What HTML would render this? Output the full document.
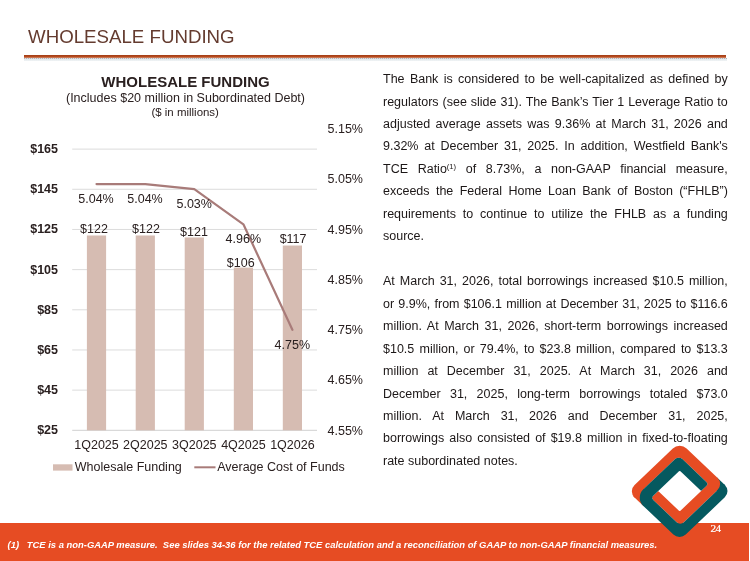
<!DOCTYPE html>
<html lang="en">
<head>
<meta charset="utf-8">
<title>Wholesale Funding</title>
<style>
html,body{margin:0;padding:0;background:#fff;}
body{width:750px;height:561px;position:relative;overflow:hidden;font-family:"Liberation Sans",sans-serif;}
.title{position:absolute;left:28px;top:26.2px;font-size:18.7px;line-height:22px;color:#643b2f;white-space:nowrap;}
.rule{position:absolute;left:24px;top:55px;width:702px;height:3px;background:linear-gradient(#9c3a13 0,#b3471c 1px,#b64b20 2px,#cb7652 2px,#cb7652 3px);}
.rule2{position:absolute;left:24px;top:58px;width:703px;height:1px;background:repeating-linear-gradient(90deg,#b4b4b8 0,#b4b4b8 1px,#dcdee2 1px,#dcdee2 2px);}
.rule3{position:absolute;left:24px;top:59px;width:703px;height:2px;background:linear-gradient(#e2e8ec,#f0f3f5);}
svg.art{position:absolute;left:0;top:0;}
svg.art text{font-family:"Liberation Sans",sans-serif;font-size:12.5px;fill:#2a2020;}
.ln{position:absolute;left:383px;width:344.8px;height:22.5px;line-height:22.5px;font-size:12.5px;color:#1c1717;text-align:justify;text-align-last:justify;white-space:nowrap;}
.ln.last{text-align:left;text-align-last:left;}
.ln sup{font-size:7.6px;line-height:0;vertical-align:baseline;position:relative;top:-3.9px;}
.footer{position:absolute;left:0;top:523px;width:749px;height:38px;background:#e64c23;}
.fn{position:absolute;top:537.6px;font-size:9.42px;line-height:14px;font-weight:700;font-style:italic;color:#fff;white-space:nowrap;}
.pg{position:absolute;left:710.5px;top:521.3px;font-family:"Liberation Serif",serif;font-size:11.2px;line-height:14px;color:#fff;letter-spacing:-0.5px;-webkit-text-stroke:0.2px #fff;}
</style>
</head>
<body>
<div class="title">WHOLESALE FUNDING</div>
<div class="rule"></div>
<div class="rule2"></div>
<div class="rule3"></div>
<div class="footer"></div>
<svg class="art" width="750" height="561" viewBox="0 0 750 561">
<rect x="72.2" y="429.80" width="244.8" height="1" fill="#d0d0d0"/>
<rect x="72.2" y="389.63" width="244.8" height="1" fill="#dcdcdc"/>
<rect x="72.2" y="349.46" width="244.8" height="1" fill="#dcdcdc"/>
<rect x="72.2" y="309.29" width="244.8" height="1" fill="#dcdcdc"/>
<rect x="72.2" y="269.12" width="244.8" height="1" fill="#dcdcdc"/>
<rect x="72.2" y="228.95" width="244.8" height="1" fill="#dcdcdc"/>
<rect x="72.2" y="188.78" width="244.8" height="1" fill="#dcdcdc"/>
<rect x="72.2" y="148.61" width="244.8" height="1" fill="#dcdcdc"/>
<rect x="86.90" y="235.48" width="19.2" height="194.82" fill="#d6bcb2"/>
<rect x="135.70" y="235.48" width="19.2" height="194.82" fill="#d6bcb2"/>
<rect x="184.70" y="237.48" width="19.2" height="192.82" fill="#d6bcb2"/>
<rect x="233.80" y="267.61" width="19.2" height="162.69" fill="#d6bcb2"/>
<rect x="282.80" y="245.52" width="19.2" height="184.78" fill="#d6bcb2"/>
<polyline points="96.50,184.07 145.30,184.07 194.30,189.10 243.40,224.27 292.40,329.80" fill="none" stroke="#a87b79" stroke-width="2.2" stroke-linecap="round" stroke-linejoin="round"/>
<text x="58" y="434.40" text-anchor="end" font-weight="700">$25</text>
<text x="58" y="394.23" text-anchor="end" font-weight="700">$45</text>
<text x="58" y="354.36" text-anchor="end" font-weight="700">$65</text>
<text x="58" y="314.19" text-anchor="end" font-weight="700">$85</text>
<text x="58" y="274.02" text-anchor="end" font-weight="700">$105</text>
<text x="58" y="233.35" text-anchor="end" font-weight="700">$125</text>
<text x="58" y="192.98" text-anchor="end" font-weight="700">$145</text>
<text x="58" y="152.71" text-anchor="end" font-weight="700">$165</text>
<text x="327.5" y="434.50">4.55%</text>
<text x="327.5" y="384.25">4.65%</text>
<text x="327.5" y="334.00">4.75%</text>
<text x="327.5" y="283.75">4.85%</text>
<text x="327.5" y="233.50">4.95%</text>
<text x="327.5" y="183.25">5.05%</text>
<text x="327.5" y="133.00">5.15%</text>
<text x="96.50" y="449.4" text-anchor="middle">1Q2025</text>
<text x="145.30" y="449.4" text-anchor="middle">2Q2025</text>
<text x="194.30" y="449.4" text-anchor="middle">3Q2025</text>
<text x="243.40" y="449.4" text-anchor="middle">4Q2025</text>
<text x="292.40" y="449.4" text-anchor="middle">1Q2026</text>
<text x="94" y="232.50" text-anchor="middle">$122</text>
<text x="146" y="232.50" text-anchor="middle">$122</text>
<text x="194" y="235.90" text-anchor="middle">$121</text>
<text x="240.7" y="266.70" text-anchor="middle">$106</text>
<text x="293.1" y="243.10" text-anchor="middle">$117</text>
<text x="96" y="202.80" text-anchor="middle">5.04%</text>
<text x="145" y="202.80" text-anchor="middle">5.04%</text>
<text x="194.2" y="208.25" text-anchor="middle">5.03%</text>
<text x="243.3" y="243.20" text-anchor="middle">4.96%</text>
<text x="292.3" y="349.20" text-anchor="middle">4.75%</text>
<rect x="53" y="464.3" width="19.5" height="6.3" fill="#d6bcb2"/>
<text x="74.8" y="470.8">Wholesale Funding</text>
<line x1="194.3" y1="467.3" x2="215.5" y2="467.3" stroke="#a87b79" stroke-width="2"/>
<text x="217.2" y="470.8">Average Cost of Funds</text>
<text x="185.5" y="87" text-anchor="middle" style="font-weight:700;font-size:15px">WHOLESALE FUNDING</text>
<text x="185.5" y="102.2" text-anchor="middle">(Includes $20 million in Subordinated Debt)</text>
<text x="185.2" y="115.6" text-anchor="middle" style="font-size:11.46px">($ in millions)</text>
<g transform="translate(679.7 491.3) scale(1.024 0.976)">
<path d="M-45.40 5.09L-36.20 -4.10L-25.95 6.15L-35.14 15.34Z" fill="#e64c23"/>
<path d="M44.62 -6.01L37.55 1.06L29.42 -7.07L36.49 -14.14Z" fill="#05595f"/>
<path d="M-44.05 6.43A9.20 9.20 0 0 1 -44.05 -6.58L-6.72 -43.91A9.50 9.50 0 0 1 6.72 -43.91L36.84 -13.79A9.00 9.00 0 0 1 36.84 -1.06L4.10 31.68A5.00 5.00 0 0 1 -2.97 31.68L-25.81 8.84A3.00 3.00 0 0 1 -25.81 4.60L-21.64 0.42A1.00 1.00 0 0 1 -20.22 0.42L-0.71 19.94A1.00 1.00 0 0 0 0.71 19.94L26.02 -5.37A3.00 3.00 0 0 0 26.02 -9.62L2.62 -33.02A5.00 5.00 0 0 0 -4.45 -33.02L-43.98 6.51Z" fill="#e64c23"/>
<path d="M44.05 -6.58A9.00 9.00 0 0 1 44.05 6.15L5.87 44.34A8.50 8.50 0 0 1 -6.15 44.34L-35.50 14.99A12.00 12.00 0 0 1 -35.50 -1.98L-4.45 -33.02A5.00 5.00 0 0 1 2.62 -33.02L26.02 -9.62A3.00 3.00 0 0 1 26.02 -5.37L21.64 -0.99A1.00 1.00 0 0 1 20.22 -0.99L0.71 -20.51A1.00 1.00 0 0 0 -0.71 -20.51L-25.81 4.60A3.00 3.00 0 0 0 -25.81 8.84L-2.97 31.68A5.00 5.00 0 0 0 4.10 31.68L43.20 -7.42Z" fill="#05595f"/>
</g>
</svg>
<div class="ln" style="top:68.10px">The Bank is considered to be well-capitalized as defined by</div>
<div class="ln" style="top:90.56px">regulators (see slide 31). The Bank’s Tier 1 Leverage Ratio to</div>
<div class="ln" style="top:113.02px">adjusted average assets was 9.36% at March 31, 2026 and</div>
<div class="ln" style="top:135.48px">9.32% at December 31, 2025. In addition, Westfield Bank's</div>
<div class="ln" style="top:157.94px">TCE Ratio<sup>(1)</sup> of 8.73%, a non-GAAP financial measure,</div>
<div class="ln" style="top:180.40px">exceeds the Federal Home Loan Bank of Boston (“FHLB”)</div>
<div class="ln" style="top:202.86px">requirements to continue to utilize the FHLB as a funding</div>
<div class="ln last" style="top:225.32px">source.</div>
<div class="ln" style="top:270.24px">At March 31, 2026, total borrowings increased $10.5 million,</div>
<div class="ln" style="top:292.70px">or 9.9%, from $106.1 million at December 31, 2025 to $116.6</div>
<div class="ln" style="top:315.16px">million. At March 31, 2026, short-term borrowings increased</div>
<div class="ln" style="top:337.62px">$10.5 million, or 79.4%, to $23.8 million, compared to $13.3</div>
<div class="ln" style="top:360.08px">million at December 31, 2025. At March 31, 2026 and</div>
<div class="ln" style="top:382.54px">December 31, 2025, long-term borrowings totaled $73.0</div>
<div class="ln" style="top:405.00px">million. At March 31, 2026 and December 31, 2025,</div>
<div class="ln" style="top:427.46px">borrowings also consisted of $19.8 million in fixed-to-floating</div>
<div class="ln last" style="top:449.92px">rate subordinated notes.</div>
<div class="fn" style="left:7.6px">(1)</div>
<div class="fn" style="left:26.8px">TCE is a non-GAAP measure.&nbsp; See slides 34-36 for the related TCE calculation and a reconciliation of GAAP to non-GAAP financial measures.</div>
<div class="pg">24</div>
</body>
</html>
